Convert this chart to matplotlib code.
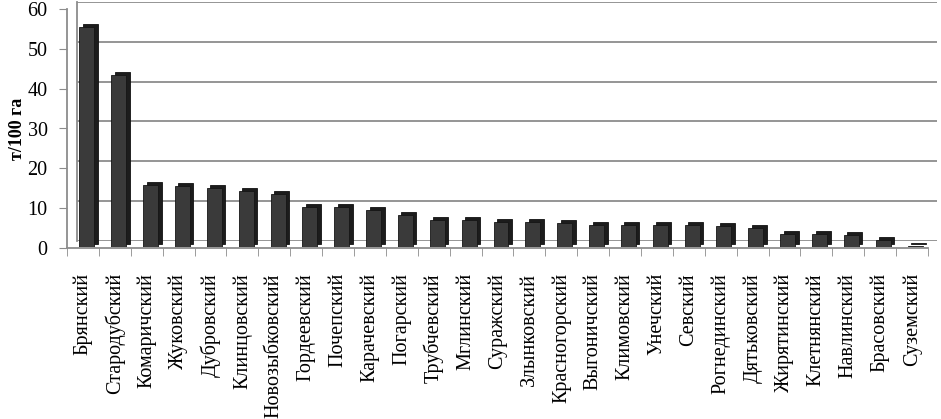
import matplotlib
matplotlib.use('Agg')
import matplotlib.pyplot as plt
import matplotlib.transforms as mtransforms
import numpy as np

plt.rcParams['font.family'] = ['Liberation Serif', 'DejaVu Serif']

districts = ['Брянский', 'Стародубский', 'Комаричский', 'Жуковский', 'Дубровский',
             'Клинцовский', 'Новозыбковский', 'Гордеевский', 'Почепский', 'Карачевский',
             'Погарский', 'Трубчевский', 'Мглинский', 'Суражский', 'Злынковский',
             'Красногорский', 'Выгоничский', 'Климовский', 'Унечский', 'Севский',
             'Рогнединский', 'Дятьковский', 'Жирятинский', 'Клетнянский', 'Навлинский',
             'Брасовский', 'Суземский']
values = [55.3, 43.2, 15.6, 15.3, 14.8, 14.1, 13.3, 10.0, 10.0, 9.4,
          8.0, 6.9, 6.7, 6.4, 6.2, 5.9, 5.5, 5.5, 5.6, 5.4,
          5.2, 4.8, 3.3, 3.3, 2.9, 1.7, 0.3]
yticks = [0, 10, 20, 30, 40, 50, 60]

W, H = 941, 419
fig = plt.figure(figsize=(W / 100, H / 100), dpi=100)

def px_axes(x0, y_top, x1, y_bot):
    return fig.add_axes([x0 / W, 1 - y_bot / H, (x1 - x0) / W, (y_bot - y_top) / H])

grid_col = '#8c8c8c'
n = len(districts)
x = np.arange(n)

# back wall with gridlines (3D depth offset)
back = px_axes(77, 2, 937, 241)
back.set_xlim(-0.5, n - 0.5)
back.set_ylim(0, 60)
for v in yticks:
    back.axhline(v, color=grid_col, lw=1.3)
for s in ['top', 'right', 'bottom']:
    back.spines[s].set_visible(False)
back.spines['left'].set_color(grid_col)
back.spines['left'].set_linewidth(1.3)
back.set_xticks([])
back.set_yticks([])
back.patch.set_visible(False)

# bars at mid depth
mid = px_axes(71, 8, 931, 247)
mid.set_xlim(-0.5, n - 0.5)
mid.set_ylim(0, 60)
mid.axis('off')
shift = mtransforms.ScaledTranslation(3.5 / 100, 3 / 100, fig.dpi_scale_trans)
mid.bar(x, values, width=0.47, color='#1c1c1c', edgecolor='#111111', lw=0.6,
        transform=mid.transData + shift, zorder=2)
mid.bar(x, values, width=0.47, color='#3a3a3a', edgecolor='#151515', lw=0.6, zorder=3)

# front axis with labels
ax = px_axes(67, 9, 928, 248)
ax.patch.set_visible(False)
ax.set_xlim(-0.5, n - 0.5)
ax.set_ylim(0, 60)
ax.set_yticks(yticks)
ax.set_yticklabels([str(v) for v in yticks], fontsize=14.5)
ax.set_xticks(x)
ax.set_xticklabels(districts, rotation=90, fontsize=14.5)
ax.set_xticks(np.arange(n + 1) - 0.5, minor=True)
ax.tick_params(axis='x', which='major', length=0, pad=18)
ax.tick_params(axis='x', which='minor', length=6, color=grid_col, direction='out')
ax.tick_params(axis='y', length=6, color=grid_col, pad=8)
for s in ['top', 'right']:
    ax.spines[s].set_visible(False)
for s in ['left', 'bottom']:
    ax.spines[s].set_color(grid_col)
    ax.spines[s].set_linewidth(1.3)
ax.set_ylabel('т/100 га', fontsize=13, fontweight='bold')
ax.yaxis.set_label_coords(-0.048, 0.5)

fig.savefig('out.png', dpi=100)
